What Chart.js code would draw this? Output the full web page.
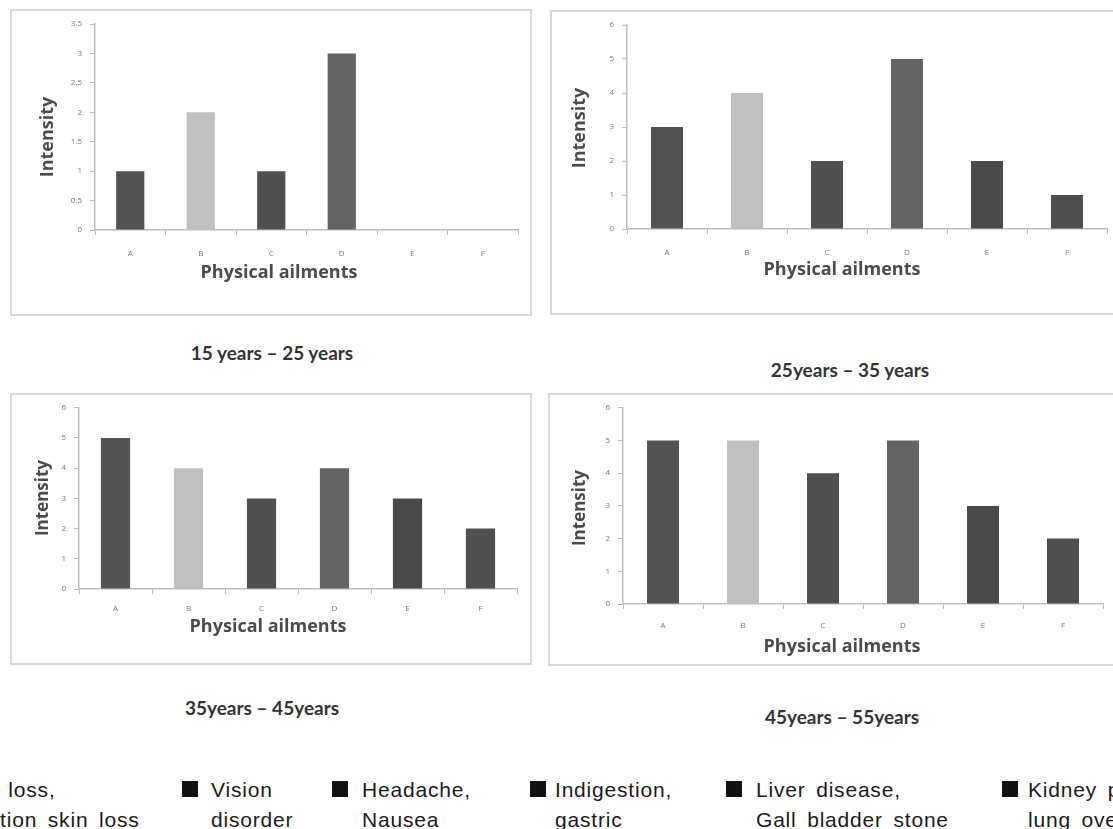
<!DOCTYPE html>
<html>
<head>
<meta charset="utf-8">
<script src="https://cdn.jsdelivr.net/npm/chart.js@4/dist/chart.umd.min.js"></script>
<style>
html,body{margin:0;padding:0;background:#fff;}
body{width:1113px;height:829px;overflow:hidden;position:relative;}
.box{position:absolute;border:2px solid #d9d9d9;box-sizing:border-box;background:#fff;overflow:hidden;}
.box canvas{position:absolute;left:0;top:0;}
.cap{position:absolute;font-family:Lato,'Open Sans',sans-serif;font-weight:bold;font-size:19px;color:#333;transform:translate(-50%,-50%);white-space:nowrap;}
.leg{position:absolute;font-family:'Liberation Sans',Arial,sans-serif;font-size:21px;letter-spacing:0.8px;word-spacing:4px;color:#1a1a1a;line-height:30px;white-space:nowrap;}
.sq{position:absolute;width:16px;height:16px;background:#111;}
</style>
</head>
<body>
<script>
// ---------- data ----------
const categories = ['A', 'B', 'C', 'D', 'E', 'F'];
const intensity15to25 = [1, 2, 1, 3, 0, 0];
const intensity25to35 = [3, 4, 2, 5, 2, 1];
const intensity35to45 = [5, 4, 3, 4, 3, 2];
const intensity45to55 = [5, 5, 4, 5, 3, 2];
const ageGroups = ['15 years – 25 years', '25years – 35 years', '35years – 45years', '45years – 55years'];
const yMaxes = [3.5, 6, 6, 6];
const ySteps = [0.5, 1, 1, 1];
const xAxisTitle = 'Physical ailments';
const yAxisTitle = 'Intensity';
const ailmentLines = [
  ['Hair loss,', 'Pigmentation skin loss'],
  ['Vision', 'disorder'],
  ['Headache,', 'Nausea'],
  ['Indigestion,', 'gastric'],
  ['Liver disease,', 'Gall bladder stone'],
  ['Kidney problem,', 'lung overload']
];

// ---------- styles / layout ----------
const barColors = ['#535353', '#c0c0c0', '#505050', '#646464', '#4a4a4a', '#4f4f4f'];
const panels = [
  {box:[10,9,522,307],  area:{l:95, r:518, t:24, b:230}, labelPad:14, xT:[279,273], yT:[48,137], xs:18, ys:18, cap:[272,352]},
  {box:[550,10,585,305], area:{l:627,r:1107,t:25, b:229}, labelPad:14, xT:[842,270], yT:[580,128], xs:18, ys:18, cap:[850,369]},
  {box:[10,393,522,272], area:{l:79, r:517, t:405,b:589}, labelPad:10, xT:[268,627], yT:[43,498], xs:18, ys:17, cap:[262,707]},
  {box:[548,393,587,273],area:{l:623,r:1103,t:407,b:604}, labelPad:12, xT:[842,647], yT:[580,508], xs:18, ys:17, cap:[842,716]}
];
const legendPos = [
  {sq:null, lines:[[-44,775],[-95,805]]},
  {sq:[182,781], lines:[[211,775],[211,805]]},
  {sq:[332,781], lines:[[362,775],[362,805]]},
  {sq:[530,781], lines:[[555,775],[555,805]]},
  {sq:[726,781], lines:[[756,775],[756,805]]},
  {sq:[1002,781], lines:[[1028,775],[1028,805]]}
];

const axisTitlePlugin = {
  id: 'axisTitles',
  afterDraw(chart, args, o) {
    const ctx = chart.ctx;
    ctx.save();
    ctx.fillStyle = '#4b4b4b';
    ctx.textAlign = 'center';
    ctx.textBaseline = 'middle';
    ctx.font = 'bold ' + o.xSize + 'px "Open Sans"';
    ctx.fillText(o.xText, o.xX, o.xY);
    ctx.translate(o.yX, o.yY);
    ctx.rotate(-Math.PI / 2);
    ctx.font = 'bold ' + o.ySize + 'px "Open Sans"';
    ctx.fillText(o.yText, 0, 0);
    ctx.restore();
  }
};

function makeChart(i, values) {
  const g = panels[i];
  const box = document.createElement('div');
  box.className = 'box';
  box.style.left = g.box[0] + 'px';
  box.style.top = g.box[1] + 'px';
  box.style.width = g.box[2] + 'px';
  box.style.height = g.box[3] + 'px';
  const cw = g.box[2] - 4, ch = g.box[3] - 4;
  const cx = g.box[0] + 2, cy = g.box[1] + 2;
  const canvas = document.createElement('canvas');
  canvas.width = cw; canvas.height = ch;
  canvas.style.width = cw + 'px'; canvas.style.height = ch + 'px';
  box.appendChild(canvas);
  document.body.appendChild(box);

  const cap = document.createElement('div');
  cap.className = 'cap';
  cap.textContent = ageGroups[i];
  cap.style.left = g.cap[0] + 'px';
  cap.style.top = g.cap[1] + 'px';
  document.body.appendChild(cap);

  const axisColor = '#bdbdbd';
  const tickFont = {size: 8, family: 'Open Sans'};
  new Chart(canvas, {
    type: 'bar',
    data: {
      labels: categories,
      datasets: [{data: values, backgroundColor: barColors, barPercentage: 0.4, categoryPercentage: 1}]
    },
    options: {
      responsive: false, animation: false, devicePixelRatio: 1,
      layout: {padding: {left: 0, top: g.area.t - cy, right: cw - (g.area.r - cx), bottom: 0}},
      plugins: {
        legend: {display: false}, tooltip: {enabled: false},
        axisTitles: {
          xText: xAxisTitle, xX: g.xT[0] - cx, xY: g.xT[1] - cy, xSize: g.xs,
          yText: yAxisTitle, yX: g.yT[0] - cx, yY: g.yT[1] - cy, ySize: g.ys
        }
      },
      scales: {
        x: {
          grid: {drawOnChartArea: false, tickLength: 5, color: axisColor, offset: true},
          border: {color: axisColor, width: 1.5},
          ticks: {color: '#777', font: tickFont, padding: g.labelPad, maxRotation: 0},
          afterFit(s) { s.height = ch - (g.area.b - cy); }
        },
        y: {
          min: 0, max: yMaxes[i],
          grid: {drawOnChartArea: false, tickLength: 5, color: axisColor},
          border: {color: axisColor, width: 1.5},
          ticks: {stepSize: ySteps[i], color: '#777', font: tickFont, padding: 8,
                  callback: v => String(v)},
          afterFit(s) { s.width = g.area.l - cx; }
        }
      }
    },
    plugins: [axisTitlePlugin]
  });
}

function drawLegend() {
  ailmentLines.forEach((lines, i) => {
    const p = legendPos[i];
    if (p.sq) {
      const s = document.createElement('div');
      s.className = 'sq';
      s.style.left = p.sq[0] + 'px';
      s.style.top = p.sq[1] + 'px';
      document.body.appendChild(s);
    }
    lines.forEach((t, k) => {
      const d = document.createElement('div');
      d.className = 'leg';
      d.textContent = t;
      d.style.left = p.lines[k][0] + 'px';
      d.style.top = p.lines[k][1] + 'px';
      document.body.appendChild(d);
    });
  });
}

function drawAll() {
  makeChart(0, intensity15to25);
  makeChart(1, intensity25to35);
  makeChart(2, intensity35to45);
  makeChart(3, intensity45to55);
  drawLegend();
}

Promise.all([
  document.fonts.load('bold 18px "Open Sans"'),
  document.fonts.load('8px "Open Sans"'),
  document.fonts.load('bold 19px Lato')
]).then(drawAll, drawAll);
</script>
</body>
</html>
